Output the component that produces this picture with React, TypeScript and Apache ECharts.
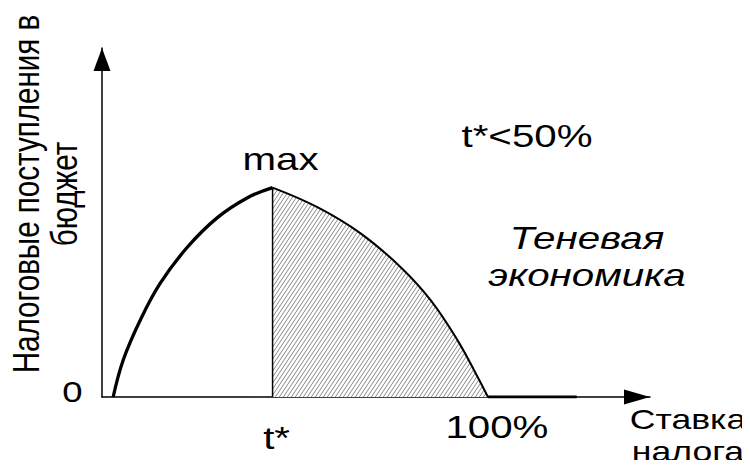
import React, { useEffect, useRef } from 'react';
import * as echarts from 'echarts';

// Rising branch of the Laffer curve (tax rate %, revenue units)
const riseX = [2.9, 5.5, 9.9, 15.1, 22.1, 29.9, 37.7, 44.2];
const riseY = [0, 10.6, 22, 32.6, 42.9, 51.4, 57.1, 60];
// Falling branch (shadow economy, hatched)
const fallX = [44.2, 55.8, 67, 77.4, 85.2, 92.1, 97.3, 100];
const fallY = [60, 54.4, 46.9, 37.2, 27.7, 16.3, 5.8, 0];
// Zero tail after 100%
const tailX = [100, 123];
const tailY = [0, 0];
// Key points
const tStar = 44.2;
const peak = 60;
const full = 100;
// Tick labels
const tickZero = '0';
const tickTStar = 't*';
const tickFull = '100%';
const peakLabel = 'max';
const noteLabel = 't*<50%';
const shadowLabel = 'Теневая\nэкономика';
const xTitle = 'Ставка\nналога';
const yTitle = 'Налоговые поступления в\nбюджет';

const X_MAX = 142;
const Y_MAX = 100;
const FONT = 'Arial, "Liberation Sans", sans-serif';
const SX = 1.26;

function zip(xs: number[], ys: number[]) {
  return xs.map((x, i) => [x, ys[i]]);
}

function makeHatch() {
  const c = document.createElement('canvas');
  c.width = 4;
  c.height = 6;
  const ctx = c.getContext('2d')!;
  ctx.fillStyle = '#ffffff';
  ctx.fillRect(0, 0, 4, 6);
  ctx.strokeStyle = '#7a7a7a';
  ctx.lineWidth = 0.9;
  ctx.beginPath();
  ctx.moveTo(-1, 7.5);
  ctx.lineTo(5, -1.5);
  ctx.moveTo(-5, 7.5);
  ctx.lineTo(1, -1.5);
  ctx.moveTo(3, 7.5);
  ctx.lineTo(9, -1.5);
  ctx.stroke();
  return c;
}

export default function App() {
  const ref = useRef<HTMLDivElement>(null);
  useEffect(() => {
    if (!ref.current) return;
    const chart = echarts.init(ref.current, undefined, { renderer: 'svg' });
    const hatch = makeHatch();
    chart.setOption({
      animation: false,
      backgroundColor: '#ffffff',
      grid: { left: 102, right: 100, top: 48, bottom: 71, containLabel: false },
      xAxis: {
        type: 'value',
        min: 0,
        max: X_MAX,
        axisLine: {
          show: true,
          lineStyle: { color: '#000', width: 1.5 },
          symbol: ['none', 'triangle'],
          symbolSize: [15, 26],
          symbolOffset: [0, -13],
        },
        axisTick: { show: false },
        axisLabel: { show: false },
        splitLine: { show: false },
      },
      yAxis: {
        type: 'value',
        min: 0,
        max: Y_MAX,
        axisLine: {
          show: true,
          lineStyle: { color: '#000', width: 1.5 },
          symbol: ['none', 'triangle'],
          symbolSize: [17, 23],
          symbolOffset: [0, -11.5],
        },
        axisTick: { show: false },
        axisLabel: { show: false },
        splitLine: { show: false },
      },
      series: [
        {
          type: 'line',
          data: zip(fallX, fallY),
          smooth: 0.4,
          symbol: 'none',
          lineStyle: { color: '#000', width: 2 },
          areaStyle: { color: { image: hatch, repeat: 'repeat' }, opacity: 1 },
          z: 2,
        },
        {
          type: 'line',
          data: zip(riseX, riseY),
          smooth: 0.4,
          symbol: 'none',
          lineStyle: { color: '#000', width: 3.3 },
          z: 3,
        },
        {
          type: 'line',
          data: [[tStar, 0], [tStar, peak]],
          symbol: 'none',
          lineStyle: { color: '#000', width: 1.5 },
          z: 3,
        },
        {
          type: 'line',
          data: zip(tailX, tailY),
          symbol: 'none',
          lineStyle: { color: '#000', width: 3 },
          z: 3,
        },
      ],
    });

    const px = (x: number, y: number) => chart.convertToPixel({ gridIndex: 0 }, [x, y]) as number[];
    const o = px(0, 0);
    const ts = px(tStar, 0);
    const pk = px(tStar, peak);
    const fu = px(full, 0);
    const txt = (text: string, x: number, y: number, size: number, extra: any = {}, sx: number = SX) => ({
      type: 'text',
      x,
      y,
      scaleX: sx,
      z: 10,
      style: {
        text,
        fill: '#000',
        font: `${size}px ${FONT}`,
        align: 'center',
        verticalAlign: 'middle',
        lineHeight: size + 2,
        ...extra,
      },
    });
    chart.setOption({
      graphic: [
        txt(tickZero, o[0] - 29.5, o[1] - 5, 29),
        txt(tickTStar, ts[0] + 4, ts[1] + 41, 32),
        txt(tickFull, fu[0] + 9, fu[1] + 30, 32),
        txt(peakLabel, pk[0] + 8, pk[1] - 29, 32),
        txt(noteLabel, 527, 136, 32),
        txt(shadowLabel, 587, 257, 32, { font: `italic 32px ${FONT}`, lineHeight: 37 }),
        txt(xTitle, 688, 435, 28, { lineHeight: 32 }, 1.27),
        {
          type: 'text',
          x: 45,
          y: 194,
          rotation: Math.PI / 2,
          scaleY: SX,
          z: 10,
          style: {
            text: yTitle,
            fill: '#000',
            font: `29.6px ${FONT}`,
            align: 'center',
            verticalAlign: 'middle',
            lineHeight: 30,
          },
        },
      ],
    });
    return () => chart.dispose();
  }, []);
  return <div ref={ref} style={{ width: 750, height: 468, margin: -8 }} />;
}
